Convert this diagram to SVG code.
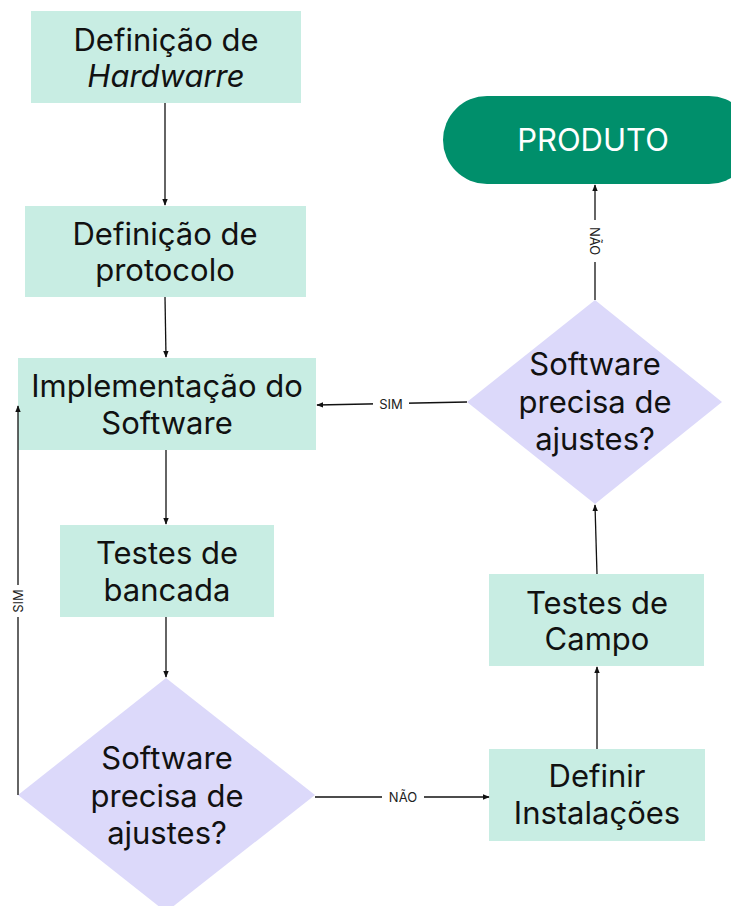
<svg xmlns="http://www.w3.org/2000/svg" width="731" height="906" viewBox="0 0 731 906">
<defs>
<marker id="ah" viewBox="0 0 10 10" refX="9" refY="5" markerWidth="7" markerHeight="7" orient="auto" markerUnits="userSpaceOnUse">
<path d="M0,1 L10,5 L0,9 Z" fill="#111"/>
</marker>
<style>
.box{fill:#c8ede3}
.dia{fill:#dcd9fa}
.t{font-family:Inter,"Noto Sans","Liberation Sans",sans-serif;font-size:31px;fill:#111;text-anchor:middle}
.l{font-family:Inter,"Noto Sans","Liberation Sans",sans-serif;font-size:13px;fill:#222;text-anchor:middle;dominant-baseline:central}
.c{stroke:#111;stroke-width:1.3;fill:none}
.lb{fill:#fff}
</style>
</defs>
<rect width="731" height="906" fill="#fff"/>
<g id="n1"><rect class="box" x="31" y="11" width="270" height="92"/>
<text class="t" x="166" y="51">Definição de</text>
<text class="t" x="166" y="87" font-style="italic">Hardwarre</text></g>
<g id="n2"><rect class="box" x="25" y="206" width="281" height="91"/>
<text class="t" x="165" y="245">Definição de</text>
<text class="t" x="165" y="281">protocolo</text></g>
<g id="n3"><rect class="box" x="18" y="358" width="298" height="92"/>
<text class="t" x="167" y="397">Implementação do</text>
<text class="t" x="167" y="434">Software</text></g>
<g id="n4"><rect class="box" x="60" y="525" width="214" height="92"/>
<text class="t" x="167" y="564">Testes de</text>
<text class="t" x="167" y="601">bancada</text></g>
<g id="d1"><polygon class="dia" points="166,678 315,795 166,912 18,795"/>
<text class="t" x="167" y="769">Software</text>
<text class="t" x="167" y="807">precisa de</text>
<text class="t" x="167" y="844">ajustes?</text></g>
<g id="n6"><rect class="box" x="489" y="749" width="216" height="92"/>
<text class="t" x="597" y="787">Definir</text>
<text class="t" x="597" y="824">Instalações</text></g>
<g id="n7"><rect class="box" x="489" y="574" width="215" height="92"/>
<text class="t" x="597" y="614">Testes de</text>
<text class="t" x="597" y="650">Campo</text></g>
<g id="d2"><polygon class="dia" points="595,300 722,402 595,504 467,402"/>
<text class="t" x="595" y="375">Software</text>
<text class="t" x="595" y="413">precisa de</text>
<text class="t" x="595" y="450">ajustes?</text></g>
<g id="n9"><rect x="443" y="96" width="310" height="88" rx="44" fill="#008f6b"/>
<text class="t" x="593" y="151" style="fill:#fff">PRODUTO</text></g>
<g id="connectors">
<line class="c" x1="165" y1="103" x2="165" y2="205" marker-end="url(#ah)"/>
<line class="c" x1="165" y1="297" x2="166" y2="357" marker-end="url(#ah)"/>
<line class="c" x1="166" y1="450" x2="166" y2="524" marker-end="url(#ah)"/>
<line class="c" x1="166" y1="617" x2="166" y2="677" marker-end="url(#ah)"/>
<polyline class="c" points="18,795 18,406" marker-end="url(#ah)"/>
<rect class="lb" x="10" y="585" width="16" height="32"/>
<text class="l" transform="translate(18,601) rotate(-90)">SIM</text>
<line class="c" x1="315" y1="797" x2="489" y2="797" marker-end="url(#ah)"/>
<rect class="lb" x="382" y="789" width="42" height="16"/>
<text class="l" x="403" y="797">NÃO</text>
<line class="c" x1="597" y1="749" x2="597" y2="667" marker-end="url(#ah)"/>
<line class="c" x1="597" y1="574" x2="595" y2="505" marker-end="url(#ah)"/>
<line class="c" x1="467" y1="402" x2="317" y2="405" marker-end="url(#ah)"/>
<rect class="lb" x="373" y="395" width="36" height="16"/>
<text class="l" x="391" y="404">SIM</text>
<line class="c" x1="595" y1="300" x2="595" y2="185" marker-end="url(#ah)"/>
<rect class="lb" x="587" y="220" width="16" height="42"/>
<text class="l" transform="translate(595,241) rotate(90)">NÃO</text>
</g>
</svg>
